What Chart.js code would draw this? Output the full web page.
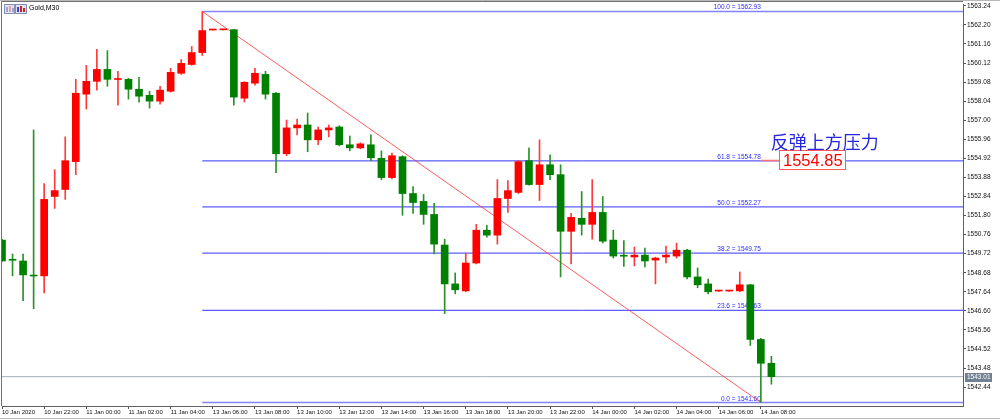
<!DOCTYPE html>
<html><head><meta charset="utf-8">
<script src="https://cdn.jsdelivr.net/npm/chart.js@4.4.1/dist/chart.umd.min.js"></script>
<style>
html,body{margin:0;padding:0;background:#fff;}
#wrap{position:relative;width:1000px;height:420px;overflow:hidden;background:#fff;}
canvas{display:block;}
.ic{position:absolute;top:4px;width:9px;height:8px;border:1px solid #8a8fb0;background:#dfe4f3;}
.ic i{position:absolute;bottom:1px;width:2px;}
#legtxt{position:absolute;left:29px;top:3px;font:7px "Liberation Sans",Arial,sans-serif;color:#000;line-height:9px;}
</style></head>
<body>
<div id="wrap">
<canvas id="c" width="1000" height="420"></canvas>
<div class="ic" style="left:4px"><i style="left:1px;height:5px;background:#9aa6d8"></i><i style="left:4px;height:6px;background:#e8a0a8"></i><i style="left:7px;height:4px;background:#9aa6d8"></i></div>
<div class="ic" style="left:15px;width:10px"><i style="left:1px;height:5px;background:#3048c8"></i><i style="left:4px;height:6px;background:#d82020"></i><i style="left:7px;height:4px;background:#d82020"></i></div>
<div id="legtxt">Gold,M30</div>
</div>
<script>
// ---- data ----
const opens  = [1550.46,1549.38,1549.32,1548.52,1548.51,1552.84,1553.22,1554.74,1558.42,1559.12,
                1559.77,1559.22,1559.23,1558.69,1558.36,1558.04,1558.58,1559.56,1560.04,1560.69,
                1561.92,1561.93,1561.94,1558.20,1559.02,1559.50,1558.47,1555.17,1556.58,1556.74,
                1555.93,1556.47,1556.63,1555.66,1555.49,1555.66,1554.92,1553.87,1555.01,1553.00,
                1552.57,1551.86,1550.19,1548.07,1547.69,1549.21,1551.00,1550.73,1552.73,1553.06,
                1554.79,1553.49,1554.57,1554.03,1550.94,1551.65,1551.32,1551.97,1550.46,1549.60,
                1549.54,1549.64,1549.37,1549.54,1549.59,1549.91,1548.45,1548.07,1547.68,1547.68,
                1547.69,1548.02,1545.04,1543.74];
const highs  = [1550.50,1549.70,1549.70,1556.47,1553.54,1554.30,1556.09,1559.23,1559.99,1560.86,
                1560.80,1559.66,1559.29,1559.34,1558.58,1558.85,1559.83,1560.31,1561.02,1562.93,
                1561.95,1561.96,1561.96,1559.10,1559.83,1559.67,1558.52,1557.01,1557.06,1557.39,
                1556.63,1556.74,1556.70,1556.14,1555.77,1556.20,1555.33,1555.20,1555.06,1553.38,
                1552.95,1552.46,1550.51,1548.67,1549.75,1551.32,1551.27,1553.76,1553.70,1554.80,
                1555.49,1555.93,1555.11,1554.57,1551.92,1553.11,1553.76,1552.84,1551.00,1550.43,
                1550.08,1550.02,1549.53,1550.13,1550.29,1549.95,1548.94,1548.34,1547.70,1547.70,
                1548.72,1548.05,1545.10,1544.12];
const lows   = [1549.30,1548.51,1547.15,1546.72,1547.58,1552.19,1552.68,1554.03,1557.61,1558.64,
                1558.85,1557.82,1558.15,1557.99,1557.66,1557.88,1558.53,1559.50,1560.00,1560.53,
                1561.92,1561.92,1557.82,1557.99,1558.91,1558.15,1554.14,1555.06,1556.20,1555.28,
                1555.66,1556.09,1555.60,1555.33,1555.44,1554.79,1553.76,1553.80,1551.81,1551.92,
                1551.32,1549.70,1546.45,1547.53,1547.64,1549.16,1550.62,1550.24,1551.97,1553.00,
                1553.45,1552.62,1553.76,1548.45,1549.16,1550.73,1550.51,1550.30,1549.48,1549.02,
                1549.05,1548.99,1548.07,1549.21,1549.48,1548.34,1547.86,1547.53,1547.66,1547.66,
                1547.64,1544.71,1541.60,1542.60];
const closes = [1549.32,1549.36,1548.56,1548.50,1552.68,1553.16,1554.79,1558.47,1559.12,1559.77,
                1559.23,1559.24,1558.69,1558.31,1558.04,1558.64,1559.61,1560.10,1560.69,1561.89,
                1561.94,1561.95,1558.26,1559.07,1559.56,1558.42,1555.17,1556.58,1556.74,1555.93,
                1556.47,1556.58,1555.66,1555.49,1555.71,1554.95,1553.87,1555.06,1553.00,1552.51,
                1551.86,1550.24,1548.07,1547.75,1549.21,1551.00,1550.73,1552.73,1553.16,1554.74,
                1553.49,1554.57,1554.03,1550.94,1551.70,1551.32,1551.97,1550.40,1549.59,1549.58,
                1549.64,1549.32,1549.48,1549.64,1549.91,1548.45,1548.02,1547.64,1547.70,1547.70,
                1548.02,1545.04,1543.74,1543.01];
const xTickLabels = ['10 Jan 2020','10 Jan 22:00','11 Jan 00:00','11 Jan 02:00','11 Jan 04:00',
                     '13 Jan 06:00','13 Jan 08:00','13 Jan 10:00','13 Jan 12:00','13 Jan 14:00',
                     '13 Jan 16:00','13 Jan 18:00','13 Jan 20:00','13 Jan 22:00','14 Jan 00:00',
                     '14 Jan 02:00','14 Jan 04:00','14 Jan 06:00','14 Jan 08:00'];
const xTickEvery = 4;
const yTickValues = [1563.24,1562.20,1561.16,1560.12,1559.08,1558.04,1557.00,1555.96,1554.92,1553.88,
                     1552.84,1551.80,1550.76,1549.72,1548.68,1547.64,1546.60,1545.56,1544.52,1543.48,1542.44];
const fibRatios = [100.0, 61.8, 50.0, 38.2, 23.6, 0.0];
const fibPrices = [1562.93, 1554.78, 1552.27, 1549.75, 1546.63, 1541.60];
const fibStartIdx = 19;
const fibEndIdx = 72;
const currentPrice = 1543.01;
const annotationText = '反弹上方压力';
const annotationPrice = 1554.85;
const symbolLabel = 'Gold,M30';

// ---- axis ranges ----
const X_MIN = 0, X_MAX = 91.18;
const Y_MIN = 1541.41, Y_MAX = 1563.29;

const UP = '#ff0000', DOWN = '#008000';
const UP_W = '#ff3a3a', DOWN_W = '#2a922a';
const isUp = opens.map((o,i)=>closes[i] >= o);
const bodyData = opens.map((o,i)=>({x:i, y:[o, closes[i]]}));
const wickData = highs.map((h,i)=>({x:i, y:[lows[i], h]}));

const datasets = [
  {type:'bar', label:'body', data:bodyData, grouped:false, barThickness:7, minBarLength:1,
   backgroundColor:isUp.map(u=>u?UP:DOWN), borderWidth:0, order:0, clip:0},
  {type:'bar', label:'wick', data:wickData, grouped:false, barThickness:1,
   backgroundColor:isUp.map(u=>u?UP_W:DOWN_W), borderWidth:0, order:1, clip:0},
];
fibPrices.forEach((p,k)=>{
  const edge = (k===0 || k===fibPrices.length-1);
  datasets.push({type:'line', label:'fib'+fibRatios[k], data:[{x:fibStartIdx,y:p},{x:X_MAX,y:p}],
    borderColor: edge ? 'rgba(110,110,255,0.85)' : '#3535ff', borderWidth: edge ? 1.6 : 1,
    pointRadius:0, order:5, clip:0});
});
datasets.push({type:'line', label:'trend', data:[{x:fibStartIdx,y:fibPrices[0]},{x:fibEndIdx,y:fibPrices[fibPrices.length-1]}],
  borderColor:'rgba(255,40,40,0.75)', borderWidth:1, pointRadius:0, order:4, clip:0});
datasets.push({type:'line', label:'price', data:[{x:X_MIN,y:currentPrice},{x:X_MAX,y:currentPrice}],
  borderColor:'#a3adb6', borderWidth:1, pointRadius:0, order:6, clip:0});

const overlay = {
  id:'overlay',
  beforeDatasetsDraw(chart){
    const {ctx, scales:{x,y}} = chart;
    ctx.save();
    ctx.font = '6.5px "Liberation Sans"';
    ctx.fillStyle = '#2b2bff';
    ctx.textAlign = 'right'; ctx.textBaseline = 'alphabetic';
    const xe = x.getPixelForValue(fibEndIdx);
    fibRatios.forEach((r,k)=>{
      ctx.fillText(r.toFixed(1)+' = '+fibPrices[k].toFixed(2), xe, y.getPixelForValue(fibPrices[k]) - 2);
    });
    ctx.restore();
  },
  afterDatasetsDraw(chart){
    const {ctx, scales:{x,y}, chartArea:ca} = chart;
    ctx.save();
    const xa = x.getPixelForValue(fibEndIdx);
    const ya = Math.round(y.getPixelForValue(annotationPrice)) + 0.5;
    ctx.strokeStyle = '#ff7070'; ctx.lineWidth = 1.5;
    ctx.beginPath(); ctx.moveTo(xa, ya); ctx.lineTo(xa+18, ya); ctx.stroke();
    const bx = Math.round(xa+18)+0.5, by = ya-10;
    ctx.fillStyle = '#fff'; ctx.fillRect(bx, by, 66, 19);
    ctx.strokeStyle = '#ff5a5a'; ctx.lineWidth = 1; ctx.strokeRect(bx, by, 66, 19);
    ctx.fillStyle = '#ff0000'; ctx.font = '16.5px "Liberation Sans"';
    ctx.textAlign = 'left'; ctx.textBaseline = 'middle';
    ctx.fillText(annotationPrice.toFixed(2), bx+3.5, ya+1);
    ctx.fillStyle = '#2626dc'; ctx.font = '18px "Noto Sans CJK SC"';
    ctx.fillText(annotationText, xa+10, ya-18);
    ctx.restore();
  },
  afterDraw(chart){
    const {ctx, scales:{y}, chartArea:ca, width} = chart;
    ctx.save();
    // frame
    ctx.strokeStyle = '#b8b8b8'; ctx.lineWidth = 1;
    ctx.beginPath(); ctx.moveTo(0, 0.5); ctx.lineTo(width, 0.5); ctx.stroke();
    ctx.beginPath(); ctx.moveTo(0, 418.5); ctx.lineTo(width, 418.5); ctx.stroke();
    ctx.strokeStyle = '#707070';
    ctx.beginPath(); ctx.moveTo(ca.left-0.5, ca.bottom); ctx.lineTo(ca.left-0.5, 1.5); ctx.lineTo(ca.right, 1.5); ctx.stroke();
    // current price label on axis
    const yp = y.getPixelForValue(currentPrice);
    ctx.fillStyle = '#6f8193';
    ctx.fillRect(ca.right+2, Math.round(yp)-4, 27, 9);
    ctx.fillStyle = '#fff'; ctx.font = '6.5px "Liberation Sans"';
    ctx.textAlign = 'left'; ctx.textBaseline = 'middle';
    ctx.fillText(currentPrice.toFixed(2), ca.right+4, Math.round(yp)+0.5);
    ctx.restore();
  }
};

Chart.defaults.font.family = '"Liberation Sans", Arial, sans-serif';
new Chart(document.getElementById('c'), {
  type:'bar',
  data:{datasets},
  options:{
    responsive:false, animation:false, devicePixelRatio:1,
    layout:{padding:{left:2, top:2, right:0, bottom:0}},
    plugins:{legend:{display:false}, tooltip:{enabled:false}},
    scales:{
      x:{type:'linear', min:X_MIN, max:X_MAX, offset:false,
         grid:{display:true, drawOnChartArea:false, drawTicks:true, tickLength:3, color:'#555', offset:false},
         border:{display:true, color:'#606060'},
         afterBuildTicks:(axis)=>{ axis.ticks = xTickLabels.map((_,k)=>({value:k*xTickEvery})); },
         afterFit:(s)=>{ s.height = 14; },
         ticks:{autoSkip:false, maxRotation:0, minRotation:0, align:'start', padding:0,
                color:'#111', font:{size:6}, callback:(v,i)=>xTickLabels[i]}},
      y:{type:'linear', position:'right', min:Y_MIN, max:Y_MAX,
         grid:{display:true, drawOnChartArea:false, drawTicks:true, tickLength:3, color:'#555'},
         border:{display:true, color:'#606060'},
         afterBuildTicks:(axis)=>{ axis.ticks = yTickValues.map(v=>({value:v})); },
         afterFit:(s)=>{ s.width = 37; },
         ticks:{padding:1, color:'#111', font:{size:6.5}, callback:(v)=>Number(v).toFixed(2)}}
    }
  },
  plugins:[overlay]
});
</script>
</body></html>
